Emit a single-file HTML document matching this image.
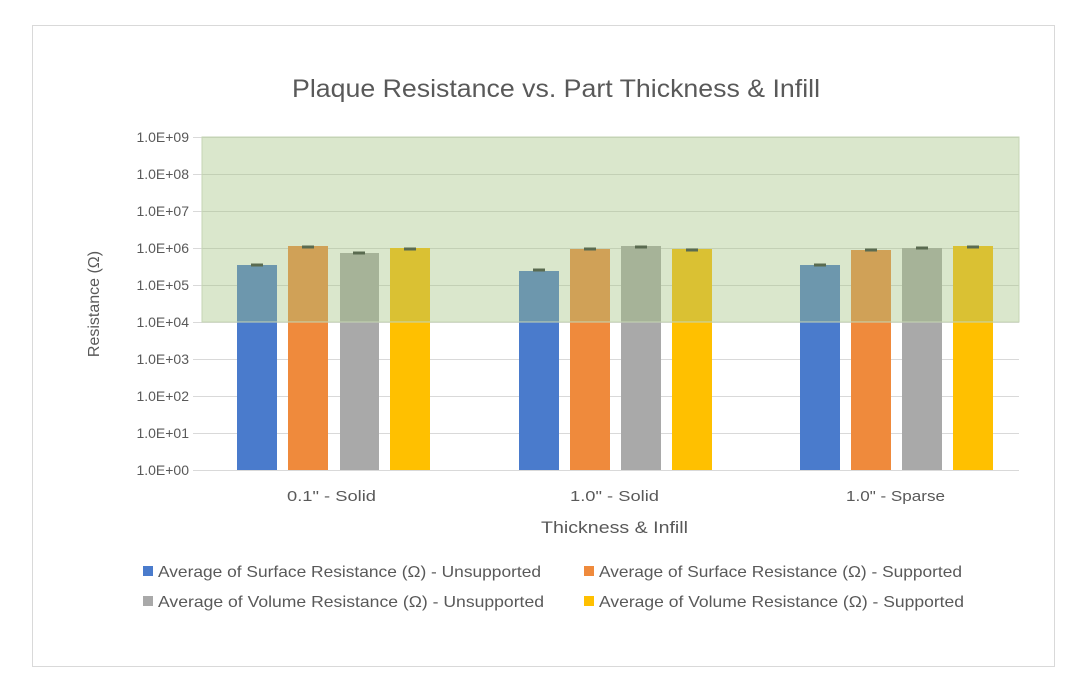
<!DOCTYPE html>
<html><head><meta charset="utf-8"><style>
body{margin:0;background:#fff;width:1083px;height:673px;overflow:hidden}
text{font-family:"Liberation Sans",sans-serif}
</style></head><body>
<svg width="1083" height="673" xmlns="http://www.w3.org/2000/svg">
<rect x="0" y="0" width="1083" height="673" fill="#fff"/>
<rect x="32.5" y="25.5" width="1022" height="641" fill="#fff" stroke="#d9d9d9"/>
<text x="292" y="97" font-size="25" fill="#595959" textLength="528" lengthAdjust="spacingAndGlyphs">Plaque Resistance vs. Part Thickness &amp; Infill</text>
<g stroke="#d9d9d9" stroke-width="1">
<line x1="193" x2="1019" y1="137.5" y2="137.5"/><line x1="193" x2="1019" y1="174.5" y2="174.5"/>
<line x1="193" x2="1019" y1="211.5" y2="211.5"/><line x1="193" x2="1019" y1="248.5" y2="248.5"/>
<line x1="193" x2="1019" y1="285.5" y2="285.5"/><line x1="193" x2="1019" y1="322.5" y2="322.5"/>
<line x1="193" x2="1019" y1="359.5" y2="359.5"/><line x1="193" x2="1019" y1="396.5" y2="396.5"/>
<line x1="193" x2="1019" y1="433.5" y2="433.5"/><line x1="193" x2="1019" y1="470.5" y2="470.5"/>
</g>
<g font-size="14" fill="#595959" text-anchor="end">
<text x="189" y="142">1.0E+09</text><text x="189" y="179">1.0E+08</text><text x="189" y="216">1.0E+07</text>
<text x="189" y="253">1.0E+06</text><text x="189" y="290">1.0E+05</text><text x="189" y="327">1.0E+04</text>
<text x="189" y="364">1.0E+03</text><text x="189" y="401">1.0E+02</text><text x="189" y="438">1.0E+01</text>
<text x="189" y="475">1.0E+00</text>
</g>
<text transform="translate(99,304) rotate(-90)" font-size="16" fill="#595959" text-anchor="middle">Resistance (Ω)</text>
<g>
<rect x="237" y="265" width="40" height="205" fill="#4a7bcc"/>
<rect x="288" y="246" width="40" height="224" fill="#ef8a3c"/>
<rect x="340" y="253" width="39" height="217" fill="#a9a9a9"/>
<rect x="390" y="248" width="40" height="222" fill="#ffc000"/>
<rect x="519" y="271" width="40" height="199" fill="#4a7bcc"/>
<rect x="570" y="249" width="40" height="221" fill="#ef8a3c"/>
<rect x="621" y="246" width="40" height="224" fill="#a9a9a9"/>
<rect x="672" y="249" width="40" height="221" fill="#ffc000"/>
<rect x="800" y="265" width="40" height="205" fill="#4a7bcc"/>
<rect x="851" y="250" width="40" height="220" fill="#ef8a3c"/>
<rect x="902" y="248" width="40" height="222" fill="#a9a9a9"/>
<rect x="953" y="246" width="40" height="224" fill="#ffc000"/>
</g>
<rect x="202" y="137" width="817" height="185" fill="#a2c480" fill-opacity="0.4" stroke="#c6d6b5"/>
<g stroke="#5a6b50" stroke-width="3">
<line x1="251" x2="263" y1="265" y2="265"/><line x1="302" x2="314" y1="247" y2="247"/>
<line x1="353" x2="365" y1="253" y2="253"/><line x1="404" x2="416" y1="249" y2="249"/>
<line x1="533" x2="545" y1="270" y2="270"/><line x1="584" x2="596" y1="249" y2="249"/>
<line x1="635" x2="647" y1="247" y2="247"/><line x1="686" x2="698" y1="250" y2="250"/>
<line x1="814" x2="826" y1="265" y2="265"/><line x1="865" x2="877" y1="250" y2="250"/>
<line x1="916" x2="928" y1="248" y2="248"/><line x1="967" x2="979" y1="247" y2="247"/>
</g>
<g font-size="15" fill="#595959">
<text x="287" y="501" textLength="89" lengthAdjust="spacingAndGlyphs">0.1" - Solid</text>
<text x="570" y="501" textLength="89" lengthAdjust="spacingAndGlyphs">1.0" - Solid</text>
<text x="846" y="501" textLength="99" lengthAdjust="spacingAndGlyphs">1.0" - Sparse</text>
</g>
<text x="541" y="533" font-size="17" fill="#595959" textLength="147" lengthAdjust="spacingAndGlyphs">Thickness &amp; Infill</text>
<g font-size="16" fill="#595959">
<rect x="143" y="566" width="10" height="10" fill="#4a7bcc"/><text x="158" y="577" textLength="383" lengthAdjust="spacingAndGlyphs">Average of Surface Resistance (Ω) - Unsupported</text>
<rect x="584" y="566" width="10" height="10" fill="#ef8a3c"/><text x="599" y="577" textLength="363" lengthAdjust="spacingAndGlyphs">Average of Surface Resistance (Ω) - Supported</text>
<rect x="143" y="596" width="10" height="10" fill="#a9a9a9"/><text x="158" y="607" textLength="386" lengthAdjust="spacingAndGlyphs">Average of Volume Resistance (Ω) - Unsupported</text>
<rect x="584" y="596" width="10" height="10" fill="#ffc000"/><text x="599" y="607" textLength="365" lengthAdjust="spacingAndGlyphs">Average of Volume Resistance (Ω) - Supported</text>
</g>
</svg>
</body></html>
